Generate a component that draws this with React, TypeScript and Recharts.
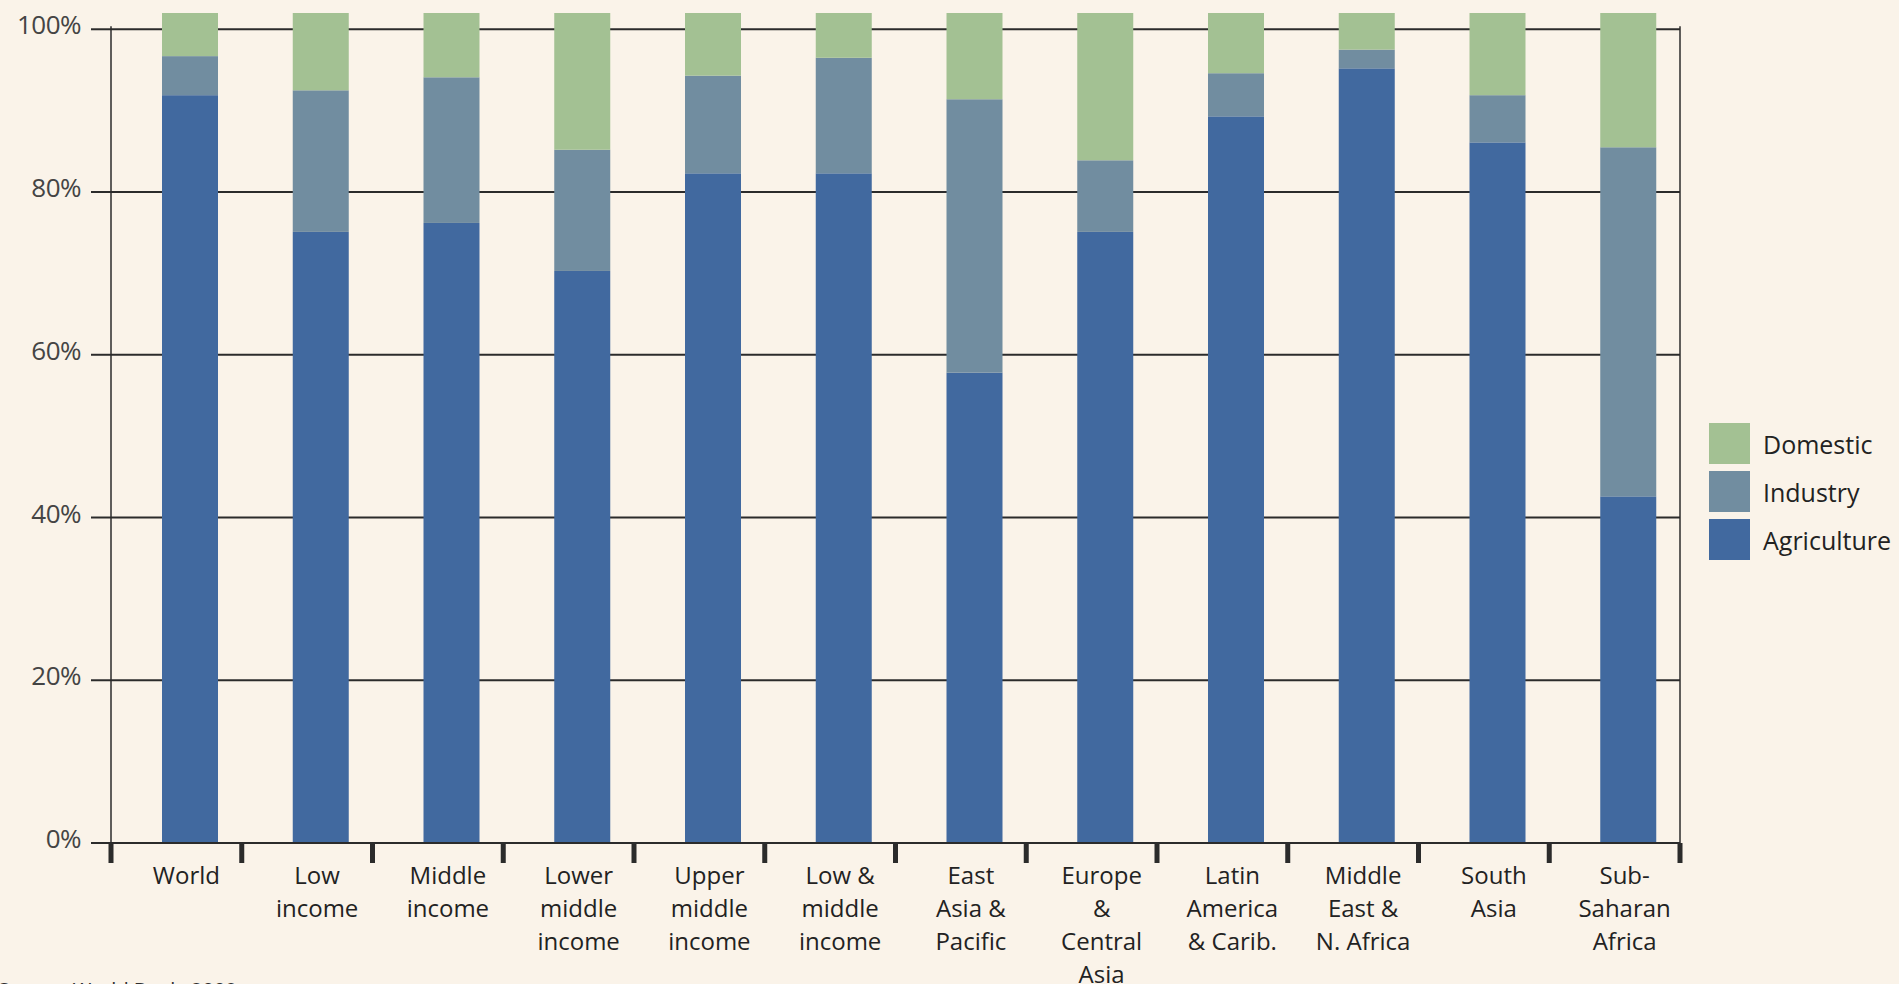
import { BarChart, Bar, XAxis, YAxis, CartesianGrid, Legend } from 'recharts';

const CATEGORIES = [
  'World',
  'Low\nincome',
  'Middle\nincome',
  'Lower\nmiddle\nincome',
  'Upper\nmiddle\nincome',
  'Low &\nmiddle\nincome',
  'East\nAsia &\nPacific',
  'Europe\n&\nCentral\nAsia',
  'Latin\nAmerica\n& Carib.',
  'Middle\nEast &\nN. Africa',
  'South\nAsia',
  'Sub-\nSaharan\nAfrica',
];

// share of water withdrawals, % (stacked bottom to top)
const AGRICULTURE = [91.9, 75.1, 76.2, 70.3, 82.3, 82.3, 57.8, 75.1, 89.3, 95.2, 86.1, 42.6];
const INDUSTRY = [4.8, 17.4, 17.9, 14.9, 12.0, 14.2, 33.6, 8.8, 5.3, 2.3, 5.8, 42.9];
const DOMESTIC = [5.3, 9.5, 7.9, 16.8, 7.7, 5.5, 10.6, 18.1, 7.4, 4.5, 10.1, 16.5];

const Y_TICKS = [0, 20, 40, 60, 80, 100];
const Y_MAX = 102;
const LEGEND_ORDER = ['Domestic', 'Industry', 'Agriculture'];

const BG = '#FAF3E9';
const INK = '#2b2b2b';
const COLORS = { agriculture: '#41699F', industry: '#718DA0', domestic: '#A3C193' };
const FONT = '"Open Sans", "DejaVu Sans", sans-serif';

const W = 1899;
const H = 984;
const MARGIN = { top: 13, right: 219, bottom: 11, left: 21 };
const Y_AXIS_W = 90;
const X_AXIS_H = 130;
const PLOT_H = H - MARGIN.top - MARGIN.bottom - X_AXIS_H;
const STEP = (W - MARGIN.left - MARGIN.right - Y_AXIS_W) / CATEGORIES.length;
const BAR_SHIFT = 14;
const LABEL_SHIFT = 10;
const LINE_H = 33;

const data = CATEGORIES.map((name, i) => ({
  name,
  agriculture: AGRICULTURE[i],
  industry: INDUSTRY[i],
  domestic: DOMESTIC[i],
}));

function ShiftedBar(props: any) {
  const { x, y, width, height, fill } = props;
  if (!height) return null;
  return <rect x={x + BAR_SHIFT} y={y} width={width} height={height} fill={fill} />;
}

// category label plus the boundary tick marks; the outer ticks also carry the
// vertical frame lines, which stop just above the 100% gridline
function CategoryTick(props: any) {
  const { x, y, payload, index } = props;
  const lines = String(payload.value).split('\n');
  const half = STEP / 2;
  const frameTop = y - (PLOT_H * 100) / Y_MAX - 3;
  const isLast = index === CATEGORIES.length - 1;
  return (
    <g>
      <rect x={x - half - 2.5} y={y} width={5} height={20} fill={INK} />
      {index === 0 && <line x1={x - half} x2={x - half} y1={frameTop} y2={y} stroke={INK} strokeWidth={1.5} />}
      {isLast && (
        <>
          <rect x={x + half - 2.5} y={y} width={5} height={20} fill={INK} />
          <line x1={x + half} x2={x + half} y1={frameTop} y2={y} stroke={INK} strokeWidth={1.5} />
        </>
      )}
      <text x={x + LABEL_SHIFT} y={y + 41} textAnchor="middle" fill="#222" fontSize={24} fontFamily={FONT}>
        {lines.map((line, i) => (
          <tspan key={i} x={x + LABEL_SHIFT} dy={i === 0 ? 0 : LINE_H}>
            {line}
          </tspan>
        ))}
      </text>
    </g>
  );
}

function PercentTick(props: any) {
  const { x, y, payload } = props;
  return (
    <text x={x} y={y + 5} textAnchor="end" fill="#444" fontSize={26} fontFamily={FONT} letterSpacing={-0.5}>
      {`${payload.value}%`}
    </text>
  );
}

function LegendBox({ payload }: any) {
  const items = LEGEND_ORDER.map((name) => (payload || []).find((p: any) => p.value === name)).filter(Boolean);
  return (
    <div style={{ fontFamily: FONT }}>
      {items.map((item: any) => (
        <div key={item.value} style={{ display: 'flex', alignItems: 'center', height: 41, marginBottom: 7 }}>
          <div style={{ width: 41, height: 41, background: item.color, marginRight: 13 }} />
          <span style={{ fontSize: 25, color: '#222' }}>{item.value}</span>
        </div>
      ))}
    </div>
  );
}

export default function App() {
  return (
    <div
      style={{
        position: 'fixed',
        inset: 0,
        width: W,
        height: H,
        overflow: 'hidden',
        background: BG,
        fontFamily: FONT,
      }}
    >
      <BarChart width={W} height={H} data={data} margin={MARGIN}>
        <CartesianGrid vertical={false} horizontalValues={Y_TICKS} stroke={INK} strokeWidth={2} />
        <XAxis
          dataKey="name"
          interval={0}
          height={X_AXIS_H}
          tickLine={false}
          tickSize={0}
          tickMargin={0}
          axisLine={{ stroke: INK, strokeWidth: 2 }}
          tick={<CategoryTick />}
        />
        <YAxis
          width={Y_AXIS_W}
          domain={[0, Y_MAX]}
          ticks={Y_TICKS}
          allowDataOverflow
          axisLine={false}
          tickSize={20}
          tickMargin={10}
          tickLine={{ stroke: INK, strokeWidth: 2 }}
          tick={<PercentTick />}
        />
        <Legend
          layout="vertical"
          align="center"
          verticalAlign="middle"
          wrapperStyle={{ left: 1709, top: 423, width: 190 }}
          content={<LegendBox />}
        />
        <Bar dataKey="agriculture" name="Agriculture" stackId="w" fill={COLORS.agriculture} barSize={56} shape={<ShiftedBar />} isAnimationActive={false} />
        <Bar dataKey="industry" name="Industry" stackId="w" fill={COLORS.industry} barSize={56} shape={<ShiftedBar />} isAnimationActive={false} />
        <Bar dataKey="domestic" name="Domestic" stackId="w" fill={COLORS.domestic} barSize={56} shape={<ShiftedBar />} isAnimationActive={false} />
      </BarChart>
      <div
        style={{
          position: 'absolute',
          left: -2,
          top: 976,
          fontSize: 20,
          color: '#2e2e2e',
          fontFamily: FONT,
          whiteSpace: 'nowrap',
        }}
      >
        Source: World Bank, 2008
      </div>
    </div>
  );
}
